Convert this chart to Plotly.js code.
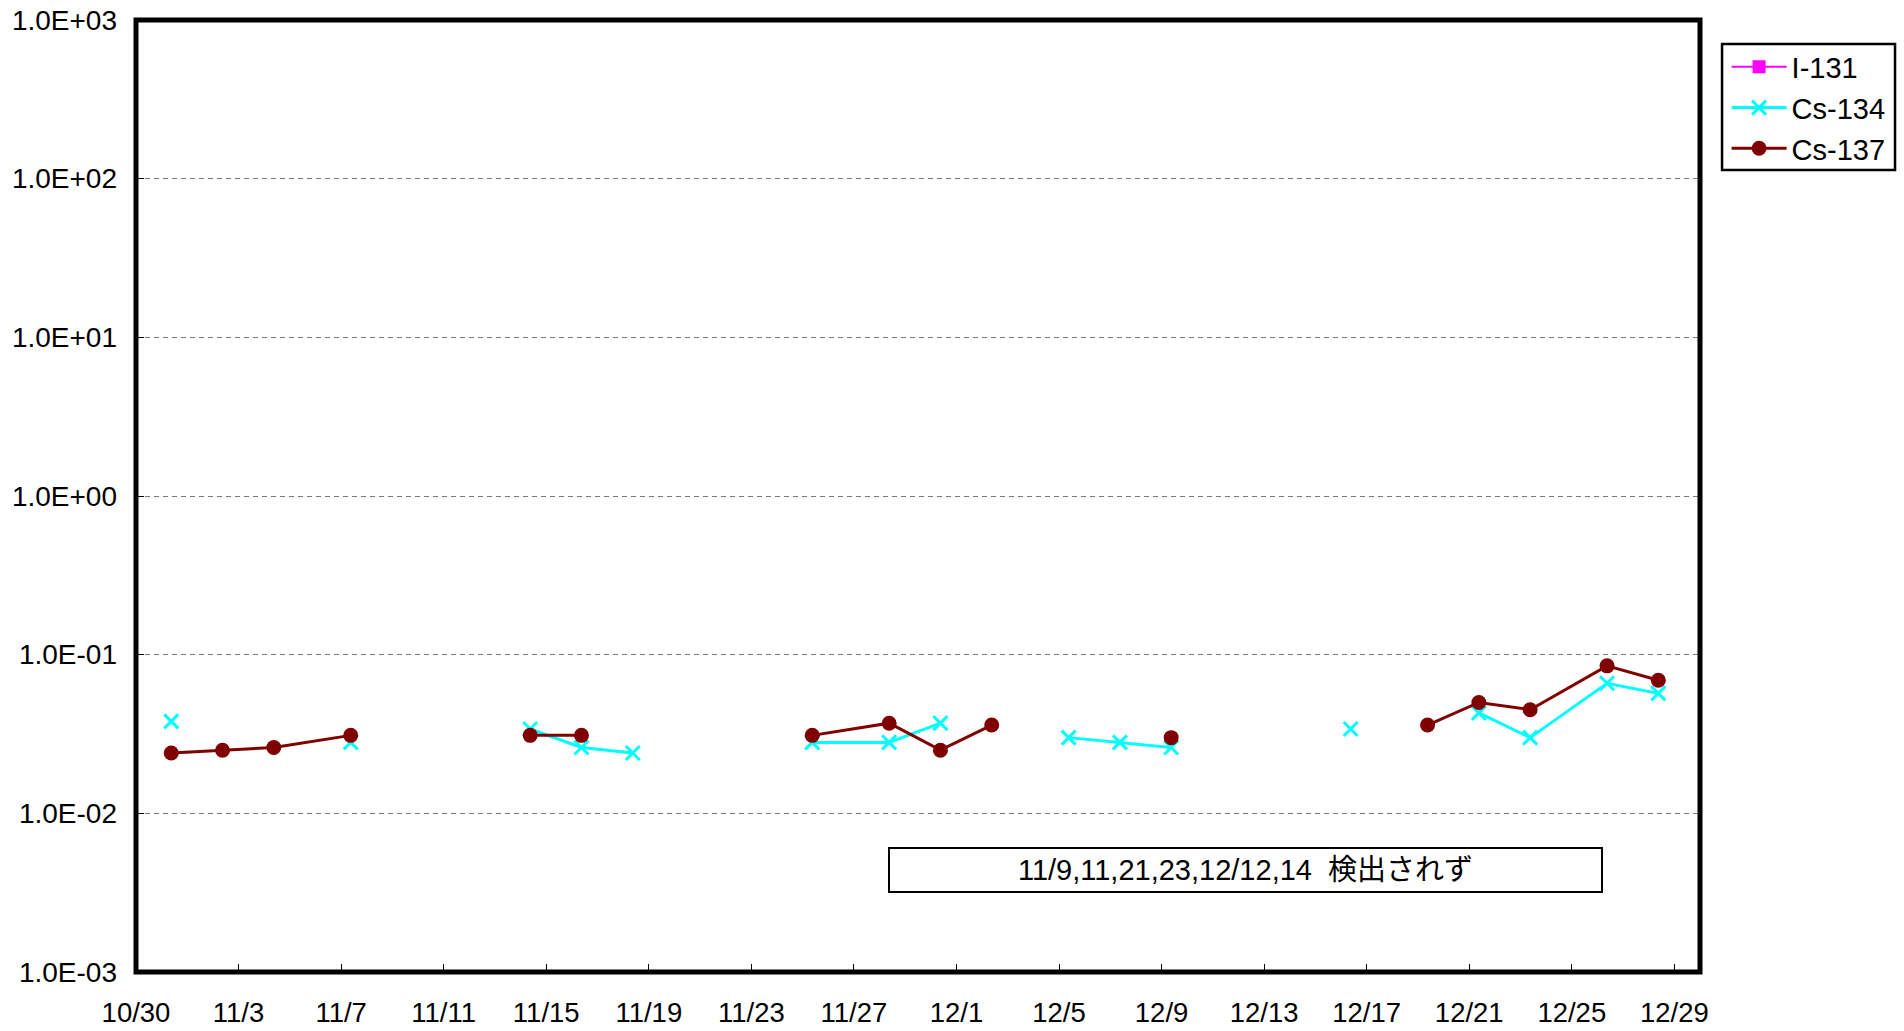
<!DOCTYPE html>
<html>
<head>
<meta charset="utf-8">
<script src="https://cdn.plot.ly/plotly-3.0.1.min.js"></script>
<style>html,body{margin:0;padding:0;background:#fff;}#chart{width:1904px;height:1031px;}</style>
</head>
<body>
<div id="chart"></div>
<script>
// Measurement dates (2011)
const dates = ['2011-10-31','2011-11-02','2011-11-04','2011-11-07','2011-11-09','2011-11-11','2011-11-14','2011-11-16','2011-11-18','2011-11-21','2011-11-23','2011-11-25','2011-11-28','2011-11-30','2011-12-02','2011-12-05','2011-12-07','2011-12-09','2011-12-12','2011-12-14','2011-12-16','2011-12-19','2011-12-21','2011-12-23','2011-12-26','2011-12-28'];
const i131 = [null,null,null,null,null,null,null,null,null,null,null,null,null,null,null,null,null,null,null,null,null,null,null,null,null,null];
const cs134 = [0.038,null,null,0.028,null,null,0.034,0.026,0.024,null,null,0.028,0.028,0.037,null,0.030,0.028,0.026,null,null,0.034,null,0.043,0.030,0.066,0.057];
const cs137 = [0.024,0.025,0.026,0.031,null,null,0.031,0.031,null,null,null,0.031,0.037,0.025,0.036,null,null,0.030,null,null,null,0.036,0.050,0.045,0.085,0.069];
const yTickVals = [1e-3,1e-2,1e-1,1e0,1e1,1e2,1e3];
const yTickText = ['1.0E-03','1.0E-02','1.0E-01','1.0E+00','1.0E+01','1.0E+02','1.0E+03'];
const note = '11/9,11,21,23,12/12,14\u00a0\u00a0検出されず';

// sampling time of day
const xs = dates.map(d => d + ' 09:00');
const FONT = '"Liberation Sans", Arial, sans-serif';

const traces = [
  {name:'I-131', x:xs, y:i131, type:'scatter', mode:'lines+markers', connectgaps:false,
   line:{color:'#FF00FF', width:2}, marker:{symbol:'square', size:13, color:'#FF00FF'}},
  {name:'Cs-134', x:xs, y:cs134, type:'scatter', mode:'lines+markers', connectgaps:false,
   line:{color:'#00FFFF', width:3}, marker:{symbol:'x-thin-open', size:14, color:'#00FFFF', line:{color:'#00FFFF', width:3}}},
  {name:'Cs-137', x:xs, y:cs137, type:'scatter', mode:'lines+markers', connectgaps:false,
   line:{color:'#800000', width:3}, marker:{symbol:'circle', size:15, color:'#800000'}}
];

const layout = {
  width:1904, height:1031,
  margin:{l:136, r:204, t:20, b:59},
  paper_bgcolor:'#fff', plot_bgcolor:'#fff',
  font:{family:FONT, color:'#000', size:27},
  showlegend:true,
  legend:{x:1.0170, y:0.9774, xanchor:'left', yanchor:'top', borderwidth:0,
          font:{family:FONT, size:29, color:'#000'}, itemwidth:55, tracegroupgap:0, bgcolor:'rgba(0,0,0,0)'},
  xaxis:{type:'date', range:['2011-10-30','2011-12-30'], tick0:'2011-10-30', dtick:4*86400000,
         tickformat:'%-m/%-d', ticks:'inside', ticklen:8, tickwidth:1, tickcolor:'#000',
         showline:false, showgrid:false, zeroline:false,
         tickfont:{family:FONT, size:27.5}, ticklabelstandoff:21},
  yaxis:{type:'log', range:[-3,3], tickvals:yTickVals, ticktext:yTickText,
         ticks:'inside', ticklen:8, tickwidth:1, tickcolor:'#000', showline:false,
         showgrid:true, gridcolor:'#7a7a7a', gridwidth:1, griddash:'5px,4px', zeroline:false,
         tickfont:{family:FONT, size:28}, ticklabelstandoff:18},
  shapes:[
    {type:'rect', xref:'paper', yref:'paper', x0:0, x1:1, y0:0, y1:1, line:{color:'#000', width:5}, layer:'above'},
    {type:'rect', xref:'paper', yref:'paper', x0:1.0141, x1:1.1247, y0:0.8424, y1:0.9748, line:{color:'#000', width:2.5}, fillcolor:'#fff', layer:'below'}
  ],
  annotations:[{xref:'paper', yref:'paper', x:0.7095, y:0.107, xanchor:'center', yanchor:'middle',
    text:note, showarrow:false, width:709, height:40, bordercolor:'#000', borderwidth:2,
    bgcolor:'#fff', font:{family:'"Liberation Sans", "Noto Sans CJK JP", sans-serif', size:29, color:'#000'}}]
};

Plotly.newPlot('chart', traces, layout, {displayModeBar:false, staticPlot:true});
</script>
</body>
</html>
